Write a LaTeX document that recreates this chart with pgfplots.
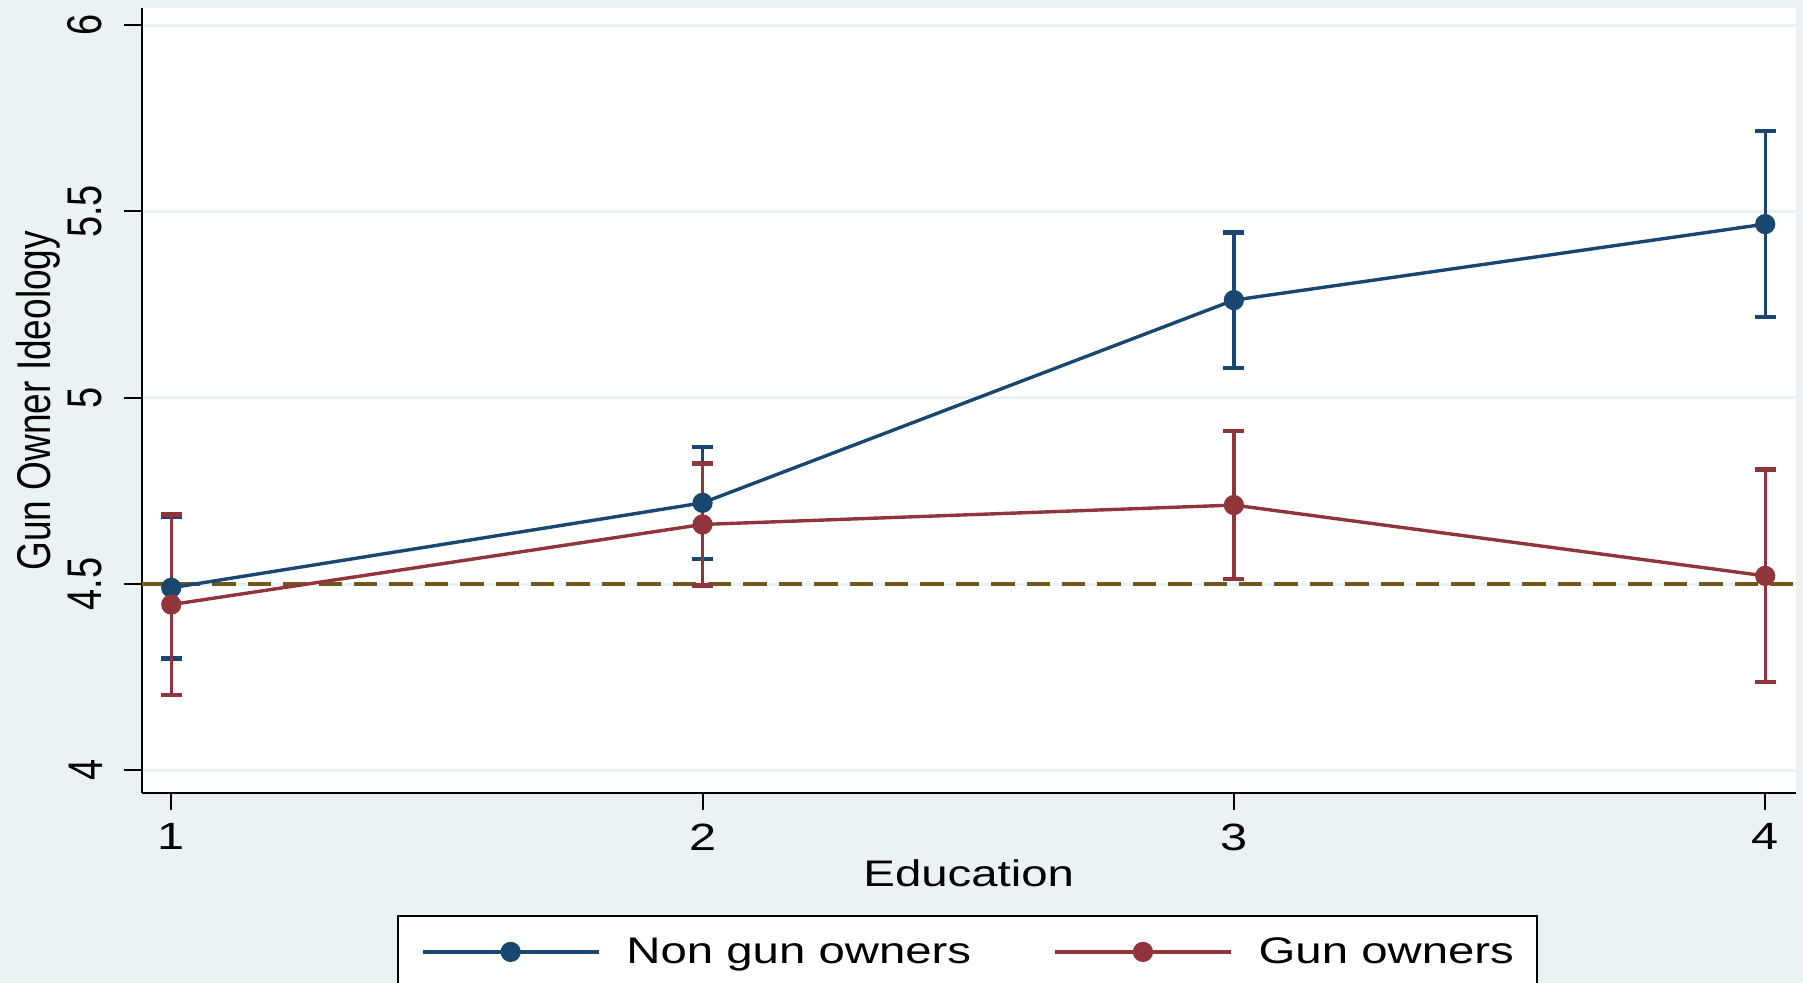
\documentclass[border=0pt]{standalone}
\usepackage{pgfplots}
\pgfplotsset{compat=1.18}
\usepackage{fontspec}
\setmainfont{Liberation Sans}[FakeStretch=1.28]
\newfontfamily\yfont{Liberation Sans}
\usepackage{graphicx}
\definecolor{sNavy}{RGB}{26,71,111}
\definecolor{sMaroon}{RGB}{144,53,59}
\definecolor{sBg}{RGB}{234,242,243}
\definecolor{sRef}{RGB}{110,88,30}
\begin{document}
\begin{tikzpicture}
\useasboundingbox (0,0) rectangle (901.5pt,491.5pt);
\clip (0,0) rectangle (901.5pt,491.5pt);
\fill[sBg] (0,0) rectangle (901.5pt,491.5pt);
\begin{axis}[
  at={(70.75pt,94.75pt)}, anchor=south west,
  scale only axis, width=827.25pt, height=392.75pt,
  xmin=0.944, xmax=4.058, ymin=3.938, ymax=6.046,
  axis background/.style={fill=white},
  axis x line*=bottom, axis y line*=left,
  axis line style={-, black, line width=1pt},
  xtick={1,2,3,4}, ytick={4,4.5,5,5.5,6},
  tick align=outside, major tick length=8.5pt,
  tick style={black, line width=1pt},
  ymajorgrids, grid style={sBg, line width=1.5pt},
  /pgf/number format/assume math mode=true,
  ticklabel style={font=\fontsize{19}{22}\selectfont, inner sep=0pt},
  xticklabel style={anchor=north, yshift=-6.3pt},
  yticklabel={\rotatebox{90}{\scalebox{1}[1.28]{\yfont\pgfmathprintnumber{\tick}}}},
  yticklabel style={anchor=east, xshift=-11pt},
  xlabel={Education},
  xlabel style={at={(axis description cs:0.5,-0.1012)}, anchor=center, font=\fontsize{18.5}{22}\selectfont},
  ylabel={\scalebox{1}[1.28]{\yfont Gun Owner Ideology}},
  ylabel style={at={(axis description cs:-0.0625,0.5)}, anchor=center, font=\fontsize{18.5}{22}\selectfont},
  legend columns=2,
  legend cell align=left,
  legend style={at={(axis description cs:0.1544,-0.1553)}, anchor=north west,
    draw=black, line width=1pt, fill=white, inner xsep=11.5pt, inner ysep=10.5pt,
    font=\fontsize{18.5}{22}\selectfont, column sep=0pt,
    /tikz/every odd column/.append style={column sep=13pt},
    /tikz/every even column/.append style={column sep=41pt},
    nodes={inner sep=0pt}},
  legend image code/.code={\draw[mark repeat=2,mark phase=2,#1] plot coordinates {(0pt,0pt) (44pt,0pt) (88pt,0pt)};},
]
\addplot[sRef, line width=1.7pt, dash pattern=on 11.7pt off 6pt, forget plot] coordinates {(0.944,4.5) (4.058,4.5)};

\addplot[sNavy, line width=1.7pt, mark=*, mark size=4.2pt,
  error bars/.cd, y dir=both, y explicit,
  error bar style={line width=1.7pt, sNavy},
  error mark options={sNavy, line width=2.2pt, mark size=5.25pt, rotate=90}]
  coordinates {
  (1,4.490) +- (0,0.190)
  (2,4.718) +- (0,0.150)
  (3,5.262) +- (0,0.182)
  (4,5.466) +- (0,0.250)
  };
\addlegendentry{Non gun owners}

\addplot[sMaroon, line width=1.7pt, mark=*, mark size=4.2pt,
  error bars/.cd, y dir=both, y explicit,
  error bar style={line width=1.7pt, sMaroon},
  error mark options={sMaroon, line width=2.2pt, mark size=5.25pt, rotate=90}]
  coordinates {
  (1,4.445) +- (0,0.242)
  (2,4.660) +- (0,0.164)
  (3,4.712) +- (0,0.198)
  (4,4.522) +- (0,0.285)
  };
\addlegendentry{Gun owners}
\end{axis}
\end{tikzpicture}
\end{document}
